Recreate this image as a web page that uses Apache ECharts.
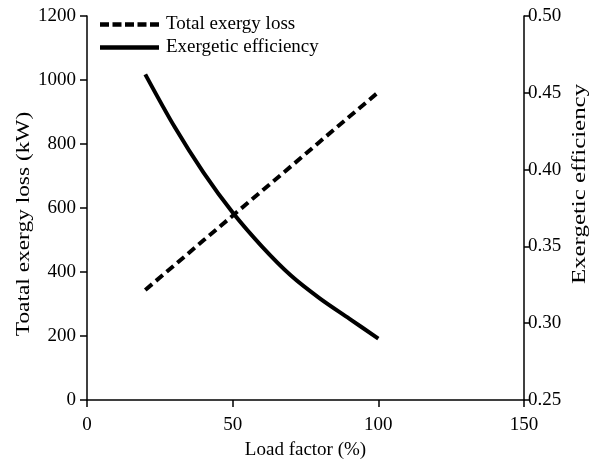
<!DOCTYPE html>
<html><head><meta charset="utf-8">
<script src="https://cdn.jsdelivr.net/npm/echarts@6/dist/echarts.min.js"></script>
<style>html,body{margin:0;padding:0;background:#fff}#c{width:597px;height:460px}</style>
</head><body><div id="c"></div>
<script>
const loadFactor = [20, 30, 40, 50, 60, 70, 80, 90, 100];
const exergyLoss = [344, 421, 499, 576, 653, 730, 808, 885, 962];
const efficiency = [0.462, 0.428, 0.398, 0.372, 0.350, 0.331, 0.316, 0.303, 0.290];
const seriesNames = ['Total exergy loss', 'Exergetic efficiency'];
const xTitle = 'Load factor (%)';
const yLeftTitle = 'Toatal exergy loss (kW)';
const yRightTitle = 'Exergetic efficiency';

const FONT = 'Liberation Serif';
const FS = 19;
const chart = echarts.init(document.getElementById('c'), null, {renderer: 'canvas'});
const axisCommon = {
  axisLine: {show: true, lineStyle: {color: '#000', width: 1.5}},
  axisTick: {show: true, length: 7, lineStyle: {color: '#000', width: 1.5}},
  splitLine: {show: false},
  axisLabel: {color: '#000', fontFamily: FONT, fontSize: FS}
};
const dashIcon = 'path://M0,0h9v4.5h-9z M12.5,0h9v4.5h-9z M25,0h9v4.5h-9z M37.5,0h9v4.5h-9z M50,0h9v4.5h-9z';
const solidIcon = 'path://M0,0h59v4.5h-59z';
chart.setOption({
  animation: false,
  backgroundColor: '#fff',
  grid: {left: 87, right: 73, top: 16, bottom: 60, outerBoundsMode: 'none', containLabel: false},
  legend: {
    orient: 'vertical', left: 95, top: 10, itemWidth: 59, itemHeight: 4.5, itemGap: 4,
    textStyle: {color: '#000', fontFamily: FONT, fontSize: FS, lineHeight: 18, padding: [0, 0, 0, 2]},
    itemStyle: {color: '#000', borderWidth: 0},
    data: [{name: seriesNames[0], icon: dashIcon}, {name: seriesNames[1], icon: solidIcon}]
  },
  xAxis: Object.assign({}, axisCommon, {
    type: 'value', min: 0, max: 150, interval: 50,
    name: xTitle, nameLocation: 'middle', nameGap: 41,
    nameTextStyle: {color: '#000', fontFamily: FONT, fontSize: FS},
    axisLabel: Object.assign({}, axisCommon.axisLabel, {margin: 16})
  }),
  yAxis: [
    Object.assign({}, axisCommon, {
      type: 'value', min: 0, max: 1200, interval: 200, position: 'left',
      axisLabel: Object.assign({}, axisCommon.axisLabel, {margin: 11, formatter: v => String(v)})
    }),
    Object.assign({}, axisCommon, {
      type: 'value', min: 0.25, max: 0.5, interval: 0.05, position: 'right',
      axisTick: {show: true, length: 5, lineStyle: {color: '#000', width: 1.5}},
      axisLabel: Object.assign({}, axisCommon.axisLabel, {margin: 4, formatter: v => v.toFixed(2)})
    })
  ],
  graphic: [
    {type: 'text', x: 24, y: 224, rotation: Math.PI / 2, scaleX: 1.23,
     style: {text: yLeftTitle, fill: '#000', fontFamily: FONT, fontSize: FS, align: 'center', verticalAlign: 'middle'}},
    {type: 'text', x: 580, y: 184, rotation: Math.PI / 2, scaleX: 1.31,
     style: {text: yRightTitle, fill: '#000', fontFamily: FONT, fontSize: FS, align: 'center', verticalAlign: 'middle'}}
  ],
  series: [
    {name: seriesNames[0], type: 'line', yAxisIndex: 0, symbol: 'none',
     lineStyle: {color: '#000', width: 4, type: [9, 5]}, itemStyle: {color: '#000'},
     data: loadFactor.map((x, i) => [x, exergyLoss[i]])},
    {name: seriesNames[1], type: 'line', yAxisIndex: 1, symbol: 'none', smooth: 0.3,
     lineStyle: {color: '#000', width: 4}, itemStyle: {color: '#000'},
     data: loadFactor.map((x, i) => [x, efficiency[i]])}
  ]
});
</script></body></html>
